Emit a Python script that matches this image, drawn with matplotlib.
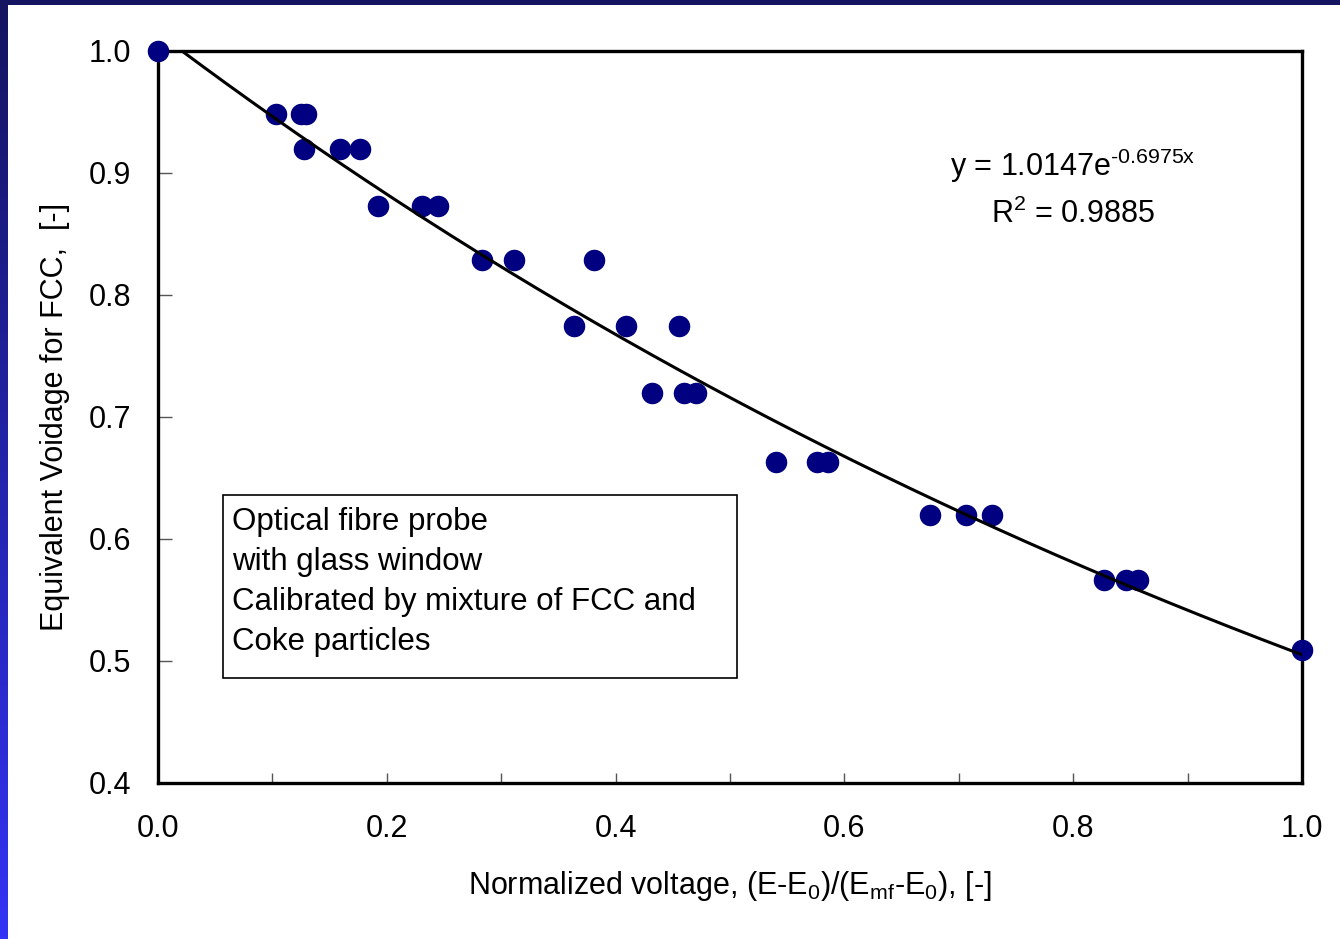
import numpy as np
import matplotlib.pyplot as plt
from matplotlib.ticker import MultipleLocator
from matplotlib.colors import LinearSegmentedColormap

plt.rcParams['font.family'] = ['Liberation Sans', 'DejaVu Sans']
plt.rcParams['mathtext.fontset'] = 'custom'
plt.rcParams['mathtext.rm'] = 'Liberation Sans'
plt.rcParams['mathtext.it'] = 'Liberation Sans'

# Measured points (normalized voltage vs equivalent voidage)
norm_voltage = [0.0, 0.103, 0.125, 0.129, 0.128, 0.159, 0.177,
                0.192, 0.231, 0.245, 0.283, 0.311, 0.381,
                0.364, 0.409, 0.455, 0.432, 0.460, 0.470,
                0.540, 0.576, 0.586, 0.675, 0.706, 0.729,
                0.827, 0.846, 0.857, 1.0]
voidage = [1.0, 0.948, 0.948, 0.948, 0.920, 0.920, 0.920,
           0.873, 0.873, 0.873, 0.829, 0.829, 0.829,
           0.775, 0.775, 0.775, 0.720, 0.720, 0.720,
           0.663, 0.663, 0.663, 0.620, 0.620, 0.620,
           0.566, 0.566, 0.566, 0.509]

# Excel exponential trendline coefficients
fit_a = 1.0147
fit_b = -0.6975

note_lines = ['Optical fibre probe', 'with glass window',
              'Calibrated by mixture of FCC and', 'Coke particles']

fig = plt.figure(figsize=(13.4, 9.39), dpi=100)

# Slide background: dark band on top, gradient strip on the left
top_band = fig.add_axes([0, 1 - 5 / 939, 1, 5 / 939])
top_band.add_patch(plt.Rectangle((0, 0), 1, 1, color='#141460', transform=top_band.transAxes))
top_band.axis('off')

left_band = fig.add_axes([0, 0, 8 / 1340, 1])
grad = np.linspace(0, 1, 256).reshape(-1, 1)
cmap = LinearSegmentedColormap.from_list('slide', ['#141460', '#3333f5'])
left_band.imshow(grad, aspect='auto', cmap=cmap, origin='upper')
left_band.axis('off')

ax = fig.add_axes([158 / 1340, 1 - 783 / 939, (1302 - 158) / 1340, (783 - 51) / 939])

ax.scatter(norm_voltage, voidage, s=210, color='#000080', zorder=3, clip_on=False)

xf = np.linspace(0, 1, 200)
ax.plot(xf, fit_a * np.exp(fit_b * xf), color='black', lw=2.2, zorder=4)

ax.set_xlim(0, 1)
ax.set_ylim(0.4, 1.0)

ax.xaxis.set_major_locator(MultipleLocator(0.2))
ax.xaxis.set_minor_locator(MultipleLocator(0.1))
ax.yaxis.set_major_locator(MultipleLocator(0.1))
ax.xaxis.set_major_formatter(lambda v, p: f'{v:.1f}')
ax.yaxis.set_major_formatter(lambda v, p: f'{v:.1f}')

ax.tick_params(axis='x', which='both', direction='in', length=7, width=1, color='#555555',
               labelsize=22, pad=22)
ax.tick_params(axis='y', which='major', direction='in', length=10, width=1, color='#555555',
               labelsize=22, pad=19)

for sp in ax.spines.values():
    sp.set_linewidth(2.4)
    sp.set_color('black')

ax.set_xlabel(r'Normalized voltage, (E-E$_0$)/(E$_{\mathrm{mf}}$-E$_0$), [-]', fontsize=22, labelpad=18)
ax.set_ylabel('Equivalent Voidage for FCC,  [-]', fontsize=22, labelpad=14)

ax.text(0.80, 0.843, r'y = 1.0147e$^{\text{-0.6975x}}$', transform=ax.transAxes,
        fontsize=22, ha='center', va='center')
ax.text(0.80, 0.777, r'R$^2$ = 0.9885', transform=ax.transAxes,
        fontsize=22, ha='center', va='center')

# annotation box
ax.add_patch(plt.Rectangle((0.0568, 0.1434), 0.4494, 0.25, transform=ax.transAxes,
                           facecolor='white', edgecolor='black', lw=1.2, zorder=2))
for i, line in enumerate(note_lines):
    ax.text(0.0649, 0.3566 - i * 0.0546, line, transform=ax.transAxes,
            fontsize=22.5, ha='left', va='center', zorder=2.5)

fig.savefig('out.png', dpi=100)
